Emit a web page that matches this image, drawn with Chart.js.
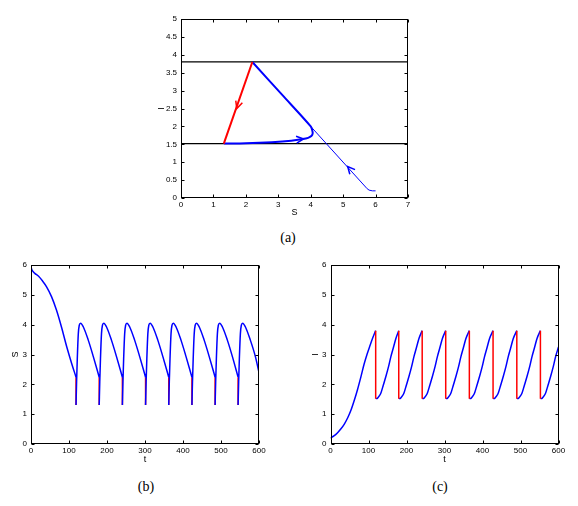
<!DOCTYPE html>
<html>
<head>
<meta charset="utf-8">
<script src="https://cdn.jsdelivr.net/npm/chart.js@4.4.0/dist/chart.umd.min.js"></script>
<style>
body{margin:0;background:#fff;}
#page{position:relative;width:578px;height:506px;overflow:hidden;background:#fff;}
canvas{position:absolute;}
.cap{position:absolute;font-family:'Liberation Serif','DejaVu Serif',serif;font-size:14px;line-height:16px;transform:translateX(-50%);color:#000;}
</style>
</head>
<body>
<div id="page">
<canvas id="phase" width="290" height="225" style="left:140px;top:0"></canvas>
<canvas id="sus" width="290" height="225" style="left:0;top:250px"></canvas>
<canvas id="inf" width="288" height="225" style="left:290px;top:250px"></canvas>
<div class="cap" style="left:288px;top:230px">(a)</div>
<div class="cap" style="left:146px;top:479px">(b)</div>
<div class="cap" style="left:440px;top:479px">(c)</div>
</div>
<script>
// ---- (a) phase plane, S against I ----
var thresholds = [3.8, 1.52];
var transientS = [6.0, 5.9, 5.8, 5.74, 2.2];
var transientI = [0.2, 0.2, 0.22, 0.26, 3.8];
var orbitS = [1.32, 2.0, 2.8, 3.4, 3.75, 3.92, 4.02, 4.06, 4.05, 4.0, 3.1, 2.2];
var orbitI = [1.52, 1.53, 1.56, 1.6, 1.645, 1.68, 1.73, 1.8, 1.88, 2.0, 2.9, 3.8];
var jumpS = [2.2, 1.32];
var jumpI = [3.8, 1.52];
var arrowS = [1.72, 3.78, 5.14];
var arrowI = [2.5, 1.65, 0.88];
var arrowBackS = [2.2, 3.0, 5.77];
var arrowBackI = [3.8, 1.58, 0.23];
var phaseSTicks = [0, 1, 2, 3, 4, 5, 6, 7];
var phaseITicks = [0, 0.5, 1, 1.5, 2, 2.5, 3, 3.5, 4, 4.5, 5];

// ---- (b) S against t, one row per impulse period ----
var tB = [
  [0, 4, 10, 20, 30, 41, 54, 67, 80, 94, 107, 118.5],
  [118.5, 120, 121.8, 124.5, 127, 130.5, 137.5, 150.5, 164, 179.5],
  [179.5, 181, 182.8, 185.5, 188, 191.5, 198.5, 211.5, 225, 240.5],
  [240.5, 242, 243.8, 246.5, 249, 252.5, 259.5, 272.5, 286, 301.5],
  [301.5, 303, 304.8, 307.5, 310, 313.5, 320.5, 333.5, 347, 362.5],
  [362.5, 364, 365.8, 368.5, 371, 374.5, 381.5, 394.5, 408, 423.5],
  [423.5, 425, 426.8, 429.5, 432, 435.5, 442.5, 455.5, 469, 484.5],
  [484.5, 486, 487.8, 490.5, 493, 496.5, 503.5, 516.5, 530, 545],
  [545, 546.5, 548.3, 551, 553.5, 557, 564, 577, 590.5, 600]
];
var sB = [
  [5.92, 5.8, 5.72, 5.62, 5.47, 5.27, 4.94, 4.49, 3.93, 3.26, 2.7, 2.24],
  [1.31, 2.1, 2.85, 3.7, 3.98, 4.05, 3.93, 3.49, 2.93, 2.24],
  [1.31, 2.1, 2.85, 3.7, 3.98, 4.05, 3.93, 3.49, 2.93, 2.24],
  [1.31, 2.1, 2.85, 3.7, 3.98, 4.05, 3.93, 3.49, 2.93, 2.24],
  [1.31, 2.1, 2.85, 3.7, 3.98, 4.05, 3.93, 3.49, 2.93, 2.24],
  [1.31, 2.1, 2.85, 3.7, 3.98, 4.05, 3.93, 3.49, 2.93, 2.24],
  [1.31, 2.1, 2.85, 3.7, 3.98, 4.05, 3.93, 3.49, 2.93, 2.24],
  [1.31, 2.1, 2.85, 3.7, 3.98, 4.05, 3.93, 3.49, 2.93, 2.24],
  [1.31, 2.1, 2.85, 3.7, 3.98, 4.05, 3.93, 3.49, 2.93, 2.4]
];
var jumpTB = [118.5, 179.5, 240.5, 301.5, 362.5, 423.5, 484.5, 545];
var sBefore = [2.24, 2.24, 2.24, 2.24, 2.24, 2.24, 2.24, 2.24];
var sAfter = [1.31, 1.31, 1.31, 1.31, 1.31, 1.31, 1.31, 1.31];

// ---- (c) I against t ----
var tC = [
  [0, 9, 18, 27, 36, 45, 53.5, 62, 71, 80, 88.5, 96, 104, 111, 118.9],
  [118.9, 123.9, 128.9, 132.9, 138.9, 145.9, 152.9, 158.9, 165.9, 171.9, 179.6],
  [179.6, 184.6, 189.6, 193.6, 199.6, 206.6, 213.6, 219.6, 226.6, 232.6, 241.3],
  [241.3, 246.3, 251.3, 255.3, 261.3, 268.3, 275.3, 281.3, 288.3, 294.3, 303.2],
  [303.2, 308.2, 313.2, 317.2, 323.2, 330.2, 337.2, 343.2, 350.2, 356.2, 365.4],
  [365.4, 370.4, 375.4, 379.4, 385.4, 392.4, 399.4, 405.4, 412.4, 418.4, 427.8],
  [427.8, 432.8, 437.8, 441.8, 447.8, 454.8, 461.8, 467.8, 474.8, 480.8, 490.3],
  [490.3, 495.3, 500.3, 504.3, 510.3, 517.3, 524.3, 530.3, 537.3, 543.3, 552.4],
  [552.4, 557.4, 562.4, 566.4, 572.4, 579.4, 586.4, 592.4, 600]
];
var iC = [
  [0.2, 0.27, 0.37, 0.5, 0.66, 0.87, 1.12, 1.44, 1.82, 2.25, 2.68, 3.0, 3.3, 3.55, 3.8],
  [1.52, 1.54, 1.62, 1.72, 1.97, 2.27, 2.6, 2.93, 3.25, 3.53, 3.8],
  [1.52, 1.54, 1.62, 1.72, 1.97, 2.27, 2.6, 2.93, 3.25, 3.53, 3.8],
  [1.52, 1.54, 1.62, 1.72, 1.97, 2.27, 2.6, 2.93, 3.25, 3.53, 3.8],
  [1.52, 1.54, 1.62, 1.72, 1.97, 2.27, 2.6, 2.93, 3.25, 3.53, 3.8],
  [1.52, 1.54, 1.62, 1.72, 1.97, 2.27, 2.6, 2.93, 3.25, 3.53, 3.8],
  [1.52, 1.54, 1.62, 1.72, 1.97, 2.27, 2.6, 2.93, 3.25, 3.53, 3.8],
  [1.52, 1.54, 1.62, 1.72, 1.97, 2.27, 2.6, 2.93, 3.25, 3.53, 3.8],
  [1.52, 1.54, 1.62, 1.72, 1.97, 2.27, 2.6, 2.93, 3.25]
];
var jumpTC = [118.9, 179.6, 241.3, 303.2, 365.4, 427.8, 490.3, 552.4];
var iBefore = [3.8, 3.8, 3.8, 3.8, 3.8, 3.8, 3.8, 3.8];
var iAfter = [1.52, 1.52, 1.52, 1.52, 1.52, 1.52, 1.52, 1.52];

var timeTicks = [0, 100, 200, 300, 400, 500, 600];
var levelTicks = [0, 1, 2, 3, 4, 5, 6];

Chart.defaults.font.family = "'Liberation Sans', Arial, sans-serif";
Chart.defaults.font.size = 8;
Chart.defaults.color = '#000';

function zip(xs, ys) {
  return xs.map(function(x, i) { return {x: x, y: ys[i]}; });
}
// rows joined into one path, broken between rows
function rows(ts, vs) {
  var out = [];
  ts.forEach(function(r, k) {
    out = out.concat(zip(r, vs[k]));
    out.push({x: r[r.length - 1], y: null});
  });
  return out;
}
function jumps(ts, a, b) {
  var out = [];
  ts.forEach(function(t, k) {
    out.push({x: t, y: a[k]}, {x: t, y: b[k]}, {x: t, y: null});
  });
  return out;
}

// matlab style box with inward ticks
var boxPlugin = {
  id: 'box',
  afterDatasetsDraw: function(chart) {
    var ctx = chart.ctx, a = chart.chartArea, sx = chart.scales.x, sy = chart.scales.y;
    var L = Math.round(a.left) + 0.5, R = Math.round(a.right) - 0.5;
    var T = Math.round(a.top) + 0.5, B = Math.round(a.bottom) - 0.5;
    ctx.save();
    ctx.strokeStyle = '#000';
    ctx.lineWidth = 1;
    ctx.strokeRect(L, T, R - L, B - T);
    ctx.beginPath();
    sx.ticks.forEach(function(tk) {
      var px = Math.round(sx.getPixelForValue(tk.value)) + 0.5;
      ctx.moveTo(px, B); ctx.lineTo(px, B - 3);
      ctx.moveTo(px, T); ctx.lineTo(px, T + 3);
    });
    sy.ticks.forEach(function(tk) {
      var py = Math.round(sy.getPixelForValue(tk.value)) + 0.5;
      ctx.moveTo(L, py); ctx.lineTo(L + 3, py);
      ctx.moveTo(R, py); ctx.lineTo(R - 3, py);
    });
    ctx.stroke();
    ctx.restore();
  }
};

var arrowColors = ['#ff0000', '#0000ff', '#0000ff'];
var arrowPlugin = {
  id: 'arrows',
  afterDatasetsDraw: function(chart) {
    var ctx = chart.ctx, sx = chart.scales.x, sy = chart.scales.y;
    ctx.save();
    ctx.lineWidth = 1.5;
    arrowS.forEach(function(s, i) {
      var tx = sx.getPixelForValue(s), ty = sy.getPixelForValue(arrowI[i]);
      var bx = sx.getPixelForValue(arrowBackS[i]), by = sy.getPixelForValue(arrowBackI[i]);
      var ang = Math.atan2(ty - by, tx - bx);
      ctx.strokeStyle = arrowColors[i];
      ctx.beginPath();
      ctx.moveTo(tx - 8 * Math.cos(ang - 0.45), ty - 8 * Math.sin(ang - 0.45));
      ctx.lineTo(tx, ty);
      ctx.lineTo(tx - 8 * Math.cos(ang + 0.45), ty - 8 * Math.sin(ang + 0.45));
      ctx.stroke();
    });
    ctx.restore();
  }
};

function axes(xTicks, yTicks, xTitle, yTitle, lay) {
  function tickSetter(vals) {
    return function(s) { s.ticks = vals.map(function(v) { return {value: v}; }); };
  }
  return {
    x: {
      type: 'linear', min: xTicks[0], max: xTicks[xTicks.length - 1],
      afterBuildTicks: tickSetter(xTicks),
      ticks: {padding: 2, autoSkip: false, maxRotation: 0, callback: function(v) { return String(v); }},
      grid: {display: false, drawTicks: false}, border: {display: false},
      title: {display: true, text: xTitle, font: {size: 9}, padding: {top: 0, bottom: lay.xTitlePad}},
      afterFit: function(s) { s.height = lay.xh; }
    },
    y: {
      type: 'linear', min: yTicks[0], max: yTicks[yTicks.length - 1],
      afterBuildTicks: tickSetter(yTicks),
      ticks: {padding: 4, autoSkip: false, callback: function(v) { return String(v); }},
      grid: {display: false, drawTicks: false}, border: {display: false},
      title: {display: true, text: yTitle, font: {size: 9}, padding: {top: lay.yTitlePad, bottom: 0}},
      afterFit: function(s) { s.width = lay.yw; }
    }
  };
}

function line(data, color, width, extra) {
  var d = {data: data, showLine: true, borderColor: color, backgroundColor: color,
    borderWidth: width, pointRadius: 0, fill: false};
  for (var k in extra) d[k] = extra[k];
  return d;
}

var common = {
  responsive: false,
  animation: false,
  plugins: {legend: {display: false}, tooltip: {enabled: false}}
};

function opts(scales, pad) {
  return Object.assign({}, common, {scales: scales, layout: {padding: pad}});
}

new Chart(document.getElementById('phase'), {
  type: 'scatter',
  data: {
    datasets: [
      line(zip(jumpS, jumpI), '#ff0000', 2),
      line(zip(orbitS, orbitI), '#0000ff', 2, {tension: 0.3}),
      line(zip(transientS, transientI), '#0000ff', 1),
      line([{x: 0, y: thresholds[0]}, {x: 7, y: thresholds[0]}], '#000', 1.3),
      line([{x: 0, y: thresholds[1]}, {x: 7, y: thresholds[1]}], '#000', 1.3)
    ]
  },
  options: opts(axes(phaseSTicks, phaseITicks, 'S', 'I', {xh: 27, yw: 41, xTitlePad: 7, yTitlePad: 16.5}),
    {top: 19, right: 22, left: 0, bottom: 0}),
  plugins: [boxPlugin, arrowPlugin]
});

new Chart(document.getElementById('sus'), {
  type: 'scatter',
  data: {
    datasets: [
      line(rows(tB, sB), '#0000ff', 1.5, {cubicInterpolationMode: 'monotone'}),
      line(jumps(jumpTB, sBefore, sAfter), '#ff0000', 1.5)
    ]
  },
  options: opts(axes(timeTicks, levelTicks, 't', 'S', {xh: 31, yw: 31, xTitlePad: 10, yTitlePad: 10.5}),
    {top: 15, right: 31, left: 0, bottom: 0}),
  plugins: [boxPlugin]
});

new Chart(document.getElementById('inf'), {
  type: 'scatter',
  data: {
    datasets: [
      line(jumps(jumpTC, iBefore, iAfter), '#ff0000', 1.5),
      line(rows(tC, iC), '#0000ff', 1.5, {cubicInterpolationMode: 'monotone'})
    ]
  },
  options: opts(axes(timeTicks, levelTicks, 't', 'I', {xh: 31, yw: 40.5, xTitlePad: 10, yTitlePad: 20.5}),
    {top: 15, right: 19.5, left: 0, bottom: 0}),
  plugins: [boxPlugin]
});
</script>
</body>
</html>
